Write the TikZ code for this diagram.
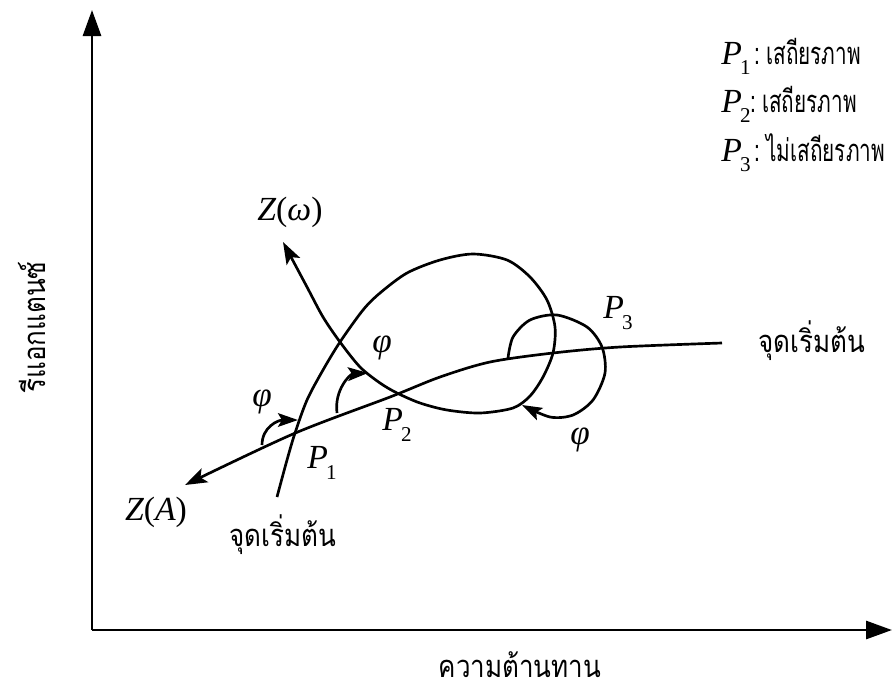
\documentclass[tikz,border=0pt]{standalone}
\usepackage{fontspec}
\usepackage{tikz}
\usetikzlibrary{arrows.meta, positioning, calc}
\newfontfamily\thaifont[Script=Thai, FakeStretch=0.84]{Loma}
\newfontfamily\thaileg[Script=Thai, FakeStretch=0.67]{Loma}
\newfontfamily\latinfont{Liberation Serif}
\newcommand{\ivar}[1]{{\latinfont\itshape #1}}
\newcommand{\Pidx}[1]{\ivar{P}\kern-0.05em\raisebox{-0.32em}{\latinfont\fontsize{15}{17}\selectfont #1}}
\newcommand{\Zof}[1]{{\latinfont\fontsize{24}{28}\selectfont\ivar{Z}(\ivar{#1})}}
\newcommand{\angphi}{{\latinfont\fontsize{25}{28}\selectfont\itshape φ}}
\newcommand{\legP}[1]{{\latinfont\fontsize{24}{28}\selectfont\Pidx{#1}}}
\tikzset{
	axisline/.style ={line width=2pt, -{Triangle[length=0.65cm, width=0.45cm]}},
	locusarrow/.style={line width=1.9pt, -{Stealth[length=0.55cm, width=0.38cm, inset=0.12cm]}},
	angarrow/.style ={line width=1.9pt, -{Stealth[length=0.5cm, width=0.34cm, inset=0.1cm]}},
	lbl/.style      ={inner sep=1pt},
	mlbl/.style     ={inner sep=1pt, font=\latinfont\fontsize{24}{28}\selectfont},
	leg/.style      ={inner sep=0pt, anchor=base west, font=\thaileg\fontsize{22}{26}\selectfont},
}

\begin{document}
\begin{tikzpicture}[x=0.025cm, y=-0.025cm, font=\thaifont\fontsize{22}{26}\selectfont]
	\useasboundingbox (0,0) rectangle (892,692);
	% axes
	\coordinate (o) at (92,630);
	\coordinate (ytip) at (92,10);
	\coordinate (xtip) at (892,630);
	\draw[axisline] (o) -- (ytip);
	\draw[axisline] (o) -- (xtip);
	\node[lbl, rotate=90] (ylab) at (32,327) {รีแอกแตนซ์};
	\node[lbl, anchor=base] (xlab) at (520,677) {ความต้านทาน};
	% legend
	\node[leg] (leg1) at (721,64) {\legP{1}\kern3pt:\kern4pt เสถียรภาพ};
	\node[leg] (leg2) at (721,112) {\legP{2}:\kern4pt เสถียรภาพ};
	\node[leg] (leg3) at (721,161) {\legP{3}\kern3pt:\kern4pt ไม่เสถียรภาพ};
	% loci
	\coordinate (a0) at (722,343);
	\coordinate (atip) at (185,485);
	\coordinate (w0) at (277,497);
	\coordinate (wtip) at (283,242);
	\draw[locusarrow] plot[smooth] coordinates {(a0) (620,347) (553,353) (490,362) (440,377) (390,397) (293,434) (atip)};
	\draw[locusarrow] plot[smooth] coordinates {(w0) (287,460) (295,433) (307,400) (323,370) (340,342) (363,310) (380,293) (407,273) (440,260) (473,254) (507,260) (530,277) (547,300) (555,327) (553,353) (543,377) (530,396) (513,408) (480,413) (447,410) (420,403) (397,393) (380,383) (360,367) (340,342) (323,317) (307,287) (wtip)};
	\node[mlbl] (za) at (156,512) {\Zof{A}};
	\node[mlbl] (zw) at (290,212) {\Zof{ω}};
	\node[lbl] (s1) at (283,535) {จุดเริ่มต้น};
	\node[lbl, anchor=west] (s2) at (757,341) {จุดเริ่มต้น};
	% angles
	\coordinate (f1a) at (262,445);
	\coordinate (f1b) at (298,420);
	\coordinate (f2a) at (337,413);
	\coordinate (f2b) at (368,373);
	\coordinate (f3a) at (508,358);
	\coordinate (f3b) at (522,405);
	\draw[angarrow] (f1a) .. controls (262,427) and (278,420) .. (f1b);
	\draw[angarrow] (f2a) .. controls (334,390) and (350,374) .. (f2b);
	\draw[angarrow] plot[smooth] coordinates {(f3a) (513,337) (530,320) (557,315) (587,327) (602,347) (605,373) (593,400) (573,415) (550,417) (f3b)};
	\node[mlbl] (p1) at (322,463) {\Pidx{1}};
	\node[mlbl] (p2) at (397,425) {\Pidx{2}};
	\node[mlbl] (p3) at (618,313) {\Pidx{3}};
	\node[lbl] (phi1) at (262,402) {\angphi};
	\node[lbl] (phi2) at (382,348) {\angphi};
	\node[lbl] (phi3) at (580,440) {\angphi};
\end{tikzpicture}
\end{document}
